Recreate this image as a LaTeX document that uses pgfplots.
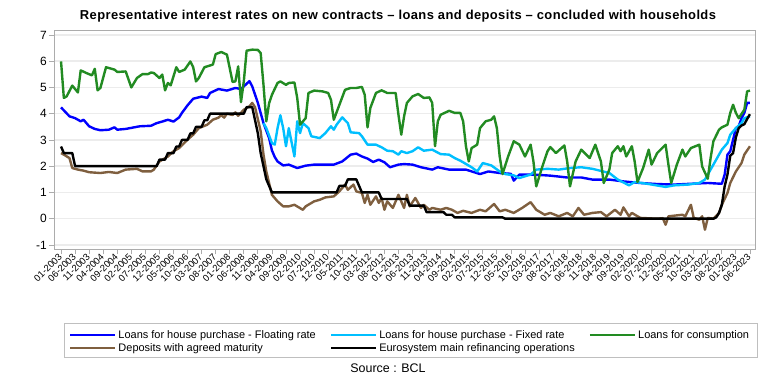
\documentclass[border=0pt]{standalone}
\usepackage{pgfplots}
\pgfplotsset{compat=1.18}
\usepackage{fontspec}
\setmainfont{Liberation Sans}
\definecolor{cblue}{HTML}{0000FF}
\definecolor{clight}{HTML}{00BFFF}
\definecolor{cgreen}{HTML}{228B22}
\definecolor{cbrown}{HTML}{7F5F3F}
\begin{document}
\begin{tikzpicture}[x=1bp,y=1bp]
\useasboundingbox (0,0) rectangle (768,384);
\node[font=\bfseries\fontsize{13}{15}\selectfont\addfontfeature{LetterSpace=3}] at (398,368) {Representative interest rates on new contracts – loans and deposits – concluded with households};
\begin{axis}[
 at={(54bp,134.6bp)}, anchor=south west, scale only axis, width=701bp, height=218.65bp,
 xmin=-2.5, xmax=246.8, ymin=-1.17, ymax=7.16,
 axis line style={draw=gray!65, line width=0.8bp},
 ytick={-1,0,...,7}, xtick={0,5,...,245},
 xticklabels={01-2003,06-2003,11-2003,04-2004,09-2004,02-2005,07-2005,12-2005,05-2006,10-2006,03-2007,08-2007,01-2008,06-2008,11-2008,04-2009,09-2009,02-2010,07-2010,12-2010,05-2011,10-2011,03-2012,08-2012,01-2013,06-2013,11-2013,04-2014,09-2014,02-2015,07-2015,12-2015,05-2016,10-2016,03-2017,08-2017,01-2018,06-2018,11-2018,04-2019,09-2019,02-2020,07-2020,12-2020,05-2021,10-2021,03-2022,08-2022,01-2023,06-2023},
 tick pos=left, tick align=outside, major tick length=5bp,
 tick style={draw=gray!65, line width=0.8bp},
 ymajorgrids, grid style={draw=gray!15, line width=1.5bp},
 /pgf/number format/assume math mode=true,
 yticklabel style={font=\fontsize{12}{12}\selectfont, inner sep=2bp},
 xticklabel style={font=\fontsize{9.5}{10}\selectfont, rotate=45, anchor=east, inner sep=1bp},
 legend columns=3, legend cell align=left,
 legend style={at={(axis description cs:0.017,-0.35)}, anchor=north west, draw=none, fill=none, font=\fontsize{11}{13}\selectfont, /tikz/every even column/.append style={column sep=12bp}},
 legend image code/.code={\draw[#1] (0bp,0bp) -- (45bp,0bp);},
 every axis plot/.append style={line width=2.4bp, line join=round},
]
\addplot[cblue] coordinates {
(0,4.24)(3,3.90)(5,3.83)(7,3.71)(8,3.77)(10,3.52)(12,3.42)(14,3.37)(17,3.39)(19,3.48)(20,3.39)(23,3.42)(26,3.48)(28,3.52)(32,3.54)(34,3.64)(36,3.70)(38,3.77)(40,3.70)(42,3.86)(43,4.03)(45,4.32)(47,4.57)(50,4.65)(52,4.60)(53,4.79)(56,4.94)(59,4.88)(62,4.98)(64,4.94)(65,5.04)(67,5.24)(68,5.04)(70,4.41)(72,3.64)(74,3.07)(75,2.60)(76,2.35)(77,2.18)(79,2.03)(81,2.06)(84,1.93)(87,2.02)(90,2.06)(94,2.06)(97,2.06)(100,2.18)(103,2.44)(105,2.48)(107,2.37)(109,2.29)(111,2.16)(113,2.25)(115,2.15)(117,1.96)(120,2.06)(122,2.08)(125,2.06)(128,1.96)(132,1.87)(134,1.96)(138,1.87)(144,1.87)(149,1.70)(152,1.80)(156,1.74)(160,1.71)(161,1.45)(163,1.68)(168,1.68)(174,1.64)(180,1.57)(185,1.57)(189,1.49)(195,1.49)(200,1.42)(206,1.36)(212,1.32)(218,1.30)(224,1.33)(230,1.36)(235,1.33)(236,1.68)(237,2.44)(238,2.57)(240,3.45)(241,3.52)(242,3.83)(243,4.03)(244,4.41)(245,4.41)};
\addlegendentry{Loans for house purchase - Floating rate}
\addplot[clight] coordinates {
(72,3.64)(73,3.45)(75,2.88)(76,2.82)(77,3.45)(78,3.94)(79,3.45)(80,2.76)(81,3.45)(83,2.37)(84,3.71)(85,3.26)(86,3.64)(88,3.45)(89,3.14)(92,3.07)(94,3.26)(96,3.52)(97,3.39)(98,3.58)(100,3.86)(102,3.64)(103,3.29)(106,3.26)(107,3.14)(109,2.82)(112,2.82)(114,2.72)(116,2.59)(118,2.57)(120,2.44)(121,2.57)(123,2.50)(125,2.57)(127,2.72)(129,2.59)(132,2.63)(135,2.46)(138,2.44)(140,2.31)(142,2.21)(146,1.96)(148,1.80)(150,2.12)(153,2.03)(156,1.80)(158,1.70)(161,1.65)(163,1.55)(167,1.68)(169,1.87)(173,1.90)(177,1.87)(181,1.93)(185,1.96)(189,1.90)(195,1.74)(198,1.49)(202,1.27)(204,1.40)(209,1.32)(215,1.21)(218,1.27)(223,1.30)(227,1.36)(229,1.49)(231,1.87)(233,2.25)(235,2.63)(237,2.88)(238,3.20)(240,3.45)(242,3.64)(243,3.83)(245,3.90)};
\addlegendentry{Loans for house purchase - Fixed rate}
\addplot[cgreen] coordinates {
(0,5.99)(1,4.60)(2,4.66)(4,5.07)(6,4.81)(7,5.65)(9,5.55)(11,5.46)(12,5.71)(13,4.89)(14,4.98)(16,5.77)(19,5.68)(20,5.59)(23,5.61)(25,5.00)(27,5.36)(29,5.51)(31,5.51)(32,5.57)(33,5.55)(35,5.36)(36,5.49)(37,4.89)(38,5.17)(39,5.08)(41,5.77)(42,5.59)(44,5.68)(46,5.99)(47,5.77)(48,5.23)(49,5.36)(51,5.77)(54,5.87)(55,6.27)(57,6.35)(59,6.25)(61,5.21)(62,5.23)(63,5.80)(64,4.44)(65,5.23)(66,6.40)(68,6.44)(70,6.43)(71,6.31)(72,5.10)(73,3.71)(74,4.40)(75,4.72)(77,5.17)(78,5.23)(80,5.10)(81,5.17)(83,5.19)(84,4.60)(85,3.58)(87,3.83)(88,4.79)(90,4.88)(93,4.85)(95,4.79)(96,4.53)(97,3.77)(99,4.34)(101,4.91)(103,4.98)(105,4.98)(107,5.02)(108,4.72)(109,3.48)(110,4.22)(112,4.79)(114,4.89)(116,4.79)(119,4.79)(120,3.96)(121,3.20)(122,3.90)(123,4.41)(125,4.66)(127,4.75)(129,4.60)(131,4.62)(132,4.41)(133,2.76)(134,3.71)(135,3.96)(138,4.11)(140,4.03)(142,4.03)(143,3.71)(144,2.76)(145,2.18)(146,2.69)(148,2.82)(149,3.45)(151,3.71)(153,3.77)(154,3.90)(155,3.45)(156,2.37)(157,1.70)(159,2.37)(161,2.95)(163,2.82)(165,2.37)(167,2.82)(168,2.18)(169,1.23)(171,1.93)(173,2.57)(174,2.73)(176,2.50)(179,2.79)(180,2.18)(181,1.23)(183,2.18)(185,2.63)(188,2.31)(190,2.82)(192,2.18)(193,1.36)(195,1.87)(196,2.50)(198,2.76)(199,2.57)(200,2.76)(201,2.37)(203,2.76)(204,2.18)(205,1.40)(207,1.93)(209,2.63)(210,2.06)(212,2.50)(215,2.82)(216,2.06)(217,1.36)(219,2.06)(221,2.63)(222,2.37)(224,2.69)(227,2.82)(228,1.99)(230,1.52)(231,2.31)(232,2.95)(234,3.39)(235,3.48)(237,3.58)(238,4.03)(239,4.34)(240,4.03)(241,3.83)(243,4.15)(244,4.85)(245,4.88)};
\addlegendentry{Loans for consumption}
\addplot[cbrown] coordinates {
(0,2.50)(1,2.44)(3,2.31)(4,1.93)(6,1.87)(8,1.83)(10,1.77)(14,1.74)(17,1.78)(20,1.74)(23,1.87)(27,1.90)(29,1.80)(32,1.80)(33,1.87)(35,2.18)(38,2.37)(40,2.57)(42,2.69)(45,3.01)(47,3.20)(49,3.45)(52,3.58)(54,3.77)(56,3.85)(57,3.95)(58,3.85)(59,4.00)(61,3.95)(62,4.05)(63,3.92)(65,4.15)(67,4.28)(68,4.41)(69,4.25)(71,3.33)(72,2.44)(73,1.80)(75,0.91)(77,0.66)(79,0.47)(81,0.47)(83,0.53)(86,0.34)(87,0.47)(90,0.66)(92,0.72)(94,0.81)(97,0.85)(99,1.04)(101,1.30)(102,1.10)(104,1.30)(105,1.04)(107,0.98)(108,0.60)(109,0.91)(110,0.53)(112,0.85)(113,0.60)(114,0.79)(115,0.34)(116,0.66)(118,0.41)(119,0.66)(120,0.91)(122,0.41)(123,0.91)(124,0.47)(126,0.79)(128,0.41)(129,0.53)(131,0.34)(132,0.41)(135,0.34)(137,0.41)(139,0.34)(141,0.22)(143,0.30)(146,0.22)(149,0.34)(151,0.28)(154,0.56)(156,0.28)(158,0.34)(161,0.22)(164,0.41)(167,0.63)(169,0.34)(172,0.15)(174,0.22)(177,0.09)(180,0.22)(182,0.09)(184,0.41)(186,0.15)(189,0.22)(192,0.25)(194,0.09)(197,0.34)(199,0.15)(200,0.43)(202,0.09)(203,0.22)(206,0.03)(212,0.00)(214,0.02)(215,-0.23)(216,0.09)(221,0.15)(222,0.09)(224,0.53)(225,0.03)(227,-0.04)(228,0.09)(229,-0.42)(230,0.03)(232,0.00)(234,0.22)(235,0.53)(237,0.98)(238,1.36)(240,1.80)(242,2.12)(243,2.44)(245,2.76)};
\addlegendentry{Deposits with agreed maturity}
\addplot[black] coordinates {
(0,2.75)(1,2.5)(4,2.5)(5,2.0)(34,2.0)(35,2.25)(37,2.25)(38,2.5)(40,2.5)(41,2.75)(42,2.75)(43,3.0)(45,3.0)(46,3.25)(47,3.25)(48,3.5)(50,3.5)(51,3.75)(52,3.75)(53,4.0)(65,4.0)(66,4.25)(68,4.25)(69,3.75)(70,3.25)(71,2.5)(72,2.0)(73,1.5)(74,1.25)(75,1.0)(98,1.0)(99,1.25)(101,1.25)(102,1.5)(105,1.5)(106,1.25)(107,1.0)(113,1.0)(114,0.75)(123,0.75)(124,0.5)(129,0.5)(130,0.25)(136,0.25)(137,0.15)(139,0.15)(140,0.05)(157,0.05)(158,0.0)(232,0.0)(233,0.05)(234,0.22)(235,0.53)(236,1.23)(237,1.68)(238,2.4)(239,2.5)(240,3.1)(241,3.45)(242,3.55)(243,3.6)(244,3.8)(245,3.98)};
\addlegendentry{Eurosystem main refinancing operations}
\end{axis}
\draw[gray!50, line width=0.8bp] (64,27) rectangle (757,61);
\node[font=\fontsize{12.5}{14}\selectfont] at (388,16) {Source : BCL};
\end{tikzpicture}
\end{document}
